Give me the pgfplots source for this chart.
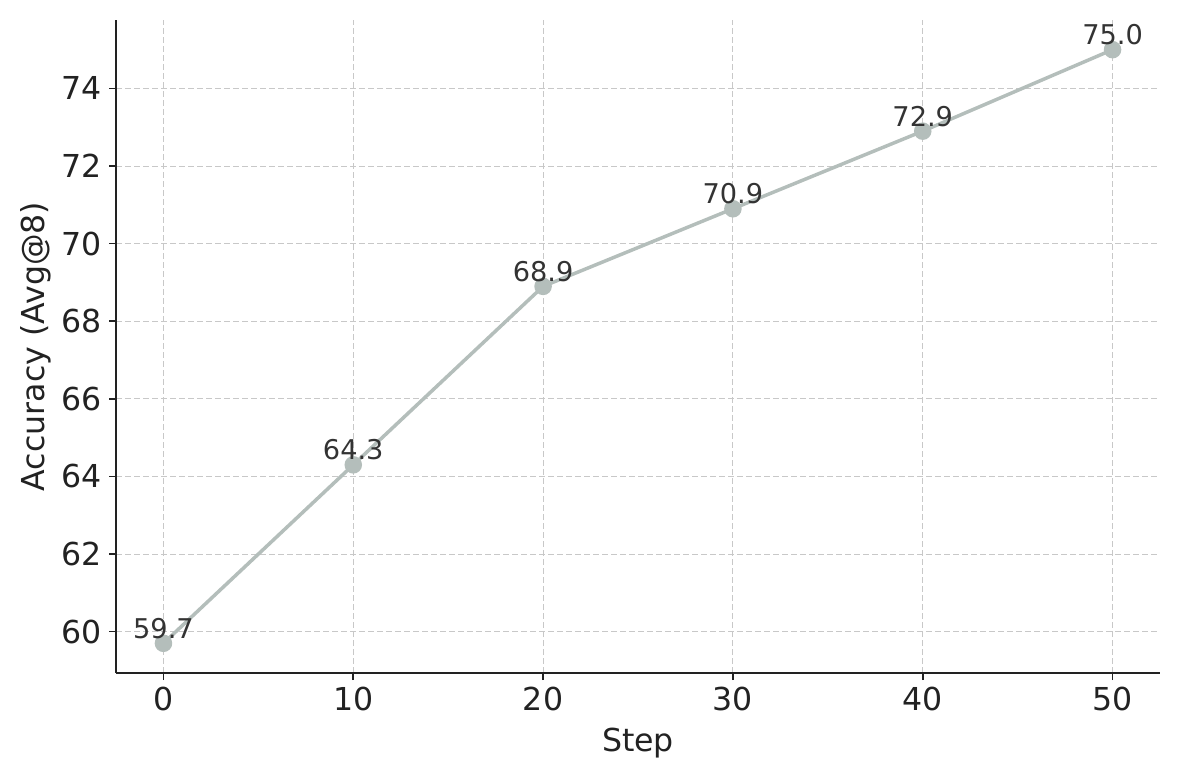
\documentclass[border=0pt]{standalone}
\usepackage{fontspec}
\setmainfont{DejaVu Sans}
\usepackage{pgfplots}
\pgfplotsset{compat=1.18}
\definecolor{linec}{HTML}{B4BEBB}
\definecolor{gridc}{HTML}{C8C8C8}
\definecolor{axc}{HTML}{222222}
\definecolor{txtc}{HTML}{333333}
\begin{document}
\begin{tikzpicture}
\begin{axis}[
  scale only axis,
  width=522pt, height=326.5pt,
  xmin=-2.5, xmax=52.5,
  ymin=58.935, ymax=75.765,
  xtick={0,10,20,30,40,50},
  ytick={60,62,64,66,68,70,72,74},
  axis lines*=left,
  axis line style={axc, line width=1pt},
  tick style={axc, line width=0.8pt},
  tick align=outside,
  major tick length=3.5pt,
  grid=major,
  grid style={gridc, line width=0.5pt, dash pattern=on 3pt off 1.5pt},
  tick label style={font=\fontsize{15.8}{18}\selectfont, text=axc},
  /pgf/number format/assume math mode=true,
  /pgf/number format/fixed,
  xlabel={Step}, ylabel={Accuracy (Avg@8)},
  label style={font=\fontsize{15.8}{18}\selectfont, text=axc},
  xlabel style={yshift=-1.5pt},
  ylabel style={yshift=-1.5pt},
  clip=false,
]
\addplot[color=linec, line width=1.75pt, mark=*, mark size=3.5pt,
  mark options={fill=linec, draw=linec},
  nodes near coords,
  point meta=explicit symbolic,
  every node near coord/.append style={font=\fontsize{13.6}{16}\selectfont, text=txtc, anchor=base, inner sep=0pt, yshift=2.5pt}]
  coordinates {
  (0,59.7) [59.7]
  (10,64.3) [64.3]
  (20,68.9) [68.9]
  (30,70.9) [70.9]
  (40,72.9) [72.9]
  (50,75.0) [75.0]
  };
\end{axis}
\path ([shift={(-58pt,-53.5pt)}]current axis.south west) rectangle ([shift={(10pt,10pt)}]current axis.north east);
\end{tikzpicture}
\end{document}
